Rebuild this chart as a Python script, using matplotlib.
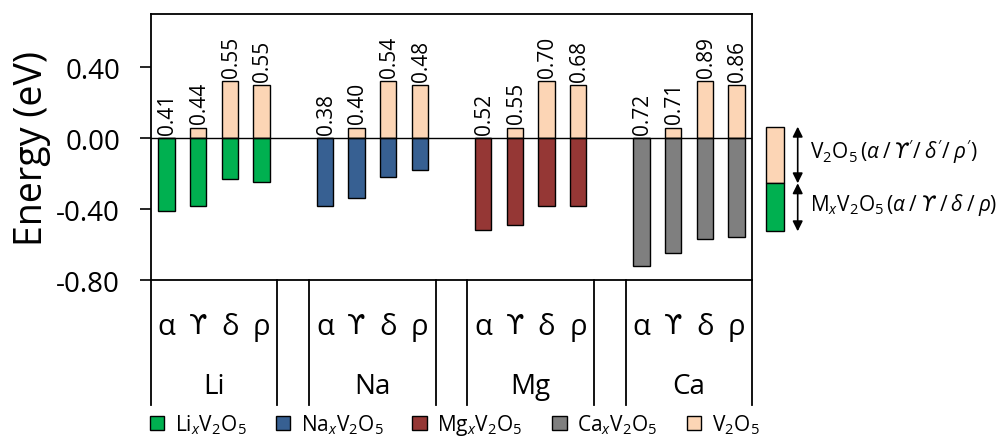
import matplotlib
matplotlib.use("Agg")
import matplotlib.pyplot as plt
from matplotlib.patches import Patch, Rectangle, FancyArrowPatch
import numpy as np

plt.rcParams["font.family"] = ["Open Sans", "DejaVu Sans"]
plt.rcParams["mathtext.fontset"] = "custom"
plt.rcParams["mathtext.rm"] = "Open Sans"
plt.rcParams["mathtext.it"] = "Open Sans:italic"
plt.rcParams["mathtext.bf"] = "Open Sans:bold"
plt.rcParams["mathtext.sf"] = "DejaVu Sans:italic"

# ---- data -------------------------------------------------------------
metals = ["Li", "Na", "Mg", "Ca"]
phases = ["α", "ϒ", "δ", "ρ"]
# energy gap between intercalated and empty host (eV), written above each bar
gap_li = [0.41, 0.44, 0.55, 0.55]
gap_na = [0.38, 0.40, 0.54, 0.48]
gap_mg = [0.52, 0.55, 0.70, 0.68]
gap_ca = [0.72, 0.71, 0.89, 0.86]
# relative energy of the empty V2O5 host for each phase (eV)
v2o5_energy = [0.00, 0.06, 0.32, 0.30]
gaps = [gap_li, gap_na, gap_mg, gap_ca]

metal_colors = ["#00B050", "#376092", "#953735", "#7F7F7F"]
v2o5_color = "#FCD5B5"
legend_labels = [r"$\mathregular{Li_{\mathit{x}}V_2O_5}$",
                 r"$\mathregular{Na_{\mathit{x}}V_2O_5}$",
                 r"$\mathregular{Mg_{\mathit{x}}V_2O_5}$",
                 r"$\mathregular{Ca_{\mathit{x}}V_2O_5}$",
                 r"$\mathregular{V_2O_5}$"]

# ---- figure -----------------------------------------------------------
fig = plt.figure(figsize=(10.04, 4.39), dpi=100)
ax = fig.add_axes([0.1501, 0.3599, 0.5992, 0.6059])

n_per = len(phases)
slot = n_per + 1
bar_w = 0.52
for g, (gap, col) in enumerate(zip(gaps, metal_colors)):
    x = np.arange(n_per) + g * slot
    gap = np.array(gap)
    top = np.array(v2o5_energy)
    bottom = top - gap
    ax.bar(x, top, width=bar_w, color=v2o5_color, edgecolor="black",
           linewidth=1.0, zorder=2)
    ax.bar(x, bottom, width=bar_w, color=col, edgecolor="black",
           linewidth=1.0, zorder=2)
    for xi, t, v in zip(x, top, gap):
        ax.annotate(f"{v:.2f}", (xi, t), xytext=(1, 3),
                    textcoords="offset points", rotation=90,
                    ha="center", va="bottom", fontsize=15)

ax.axhline(0, color="black", linewidth=1.0, zorder=3)

ax.set_xlim(-0.5, 4 * slot - 1.5)
ax.set_ylim(-0.80, 0.70)
ax.set_yticks([0.40, 0.00, -0.40, -0.80])
ax.set_yticklabels(["0.40", "0.00", "-0.40", "-0.80"])
ax.tick_params(axis="y", direction="out", length=8, width=1.2,
               labelsize=20, pad=14)
ax.set_xticks([])
for s in ax.spines.values():
    s.set_linewidth(1.3)
ax.set_ylabel("Energy (eV)", fontsize=27, labelpad=4)

# two-level category axis drawn under the plot
tr = ax.get_xaxis_transform()
line_bottom = -0.47
bounds = []
for g in range(4):
    bounds += [g * slot - 0.5, g * slot + n_per - 0.5]
for b in bounds:
    ax.plot([b, b], [0, line_bottom], transform=tr, color="black",
            linewidth=1.3, clip_on=False)
for g, m in enumerate(metals):
    for i, p in enumerate(phases):
        if p == "ϒ":
            ax.text(g * slot + i, -0.173, p, transform=tr, ha="center",
                    va="center", fontsize=19, family=["DejaVu Sans"])
        else:
            ax.text(g * slot + i, -0.173, p, transform=tr, ha="center",
                    va="center", fontsize=21)
    ax.text(g * slot + (n_per - 1) / 2, -0.398, m, transform=tr,
            ha="center", va="center", fontsize=20)

handles = [Patch(facecolor=c, edgecolor="black", linewidth=1.0)
           for c in metal_colors + [v2o5_color]]
ax.legend(handles, legend_labels, loc="center", bbox_to_anchor=(0.505, -0.545),
          ncol=5, frameon=False, fontsize=15, handlelength=0.7,
          handleheight=0.7, handletextpad=0.5, columnspacing=1.4)

# key on the right: stacked block with brackets
W, H = 1004.0, 439.0
def fx(px):
    return px / W
def fy(py):
    return 1 - py / H
x0, x1 = 765.7, 784.0
y_top, y_mid, y_bot = 127.7, 184.3, 232.3
fig.add_artist(Rectangle((fx(x0), fy(y_mid)), fx(x1) - fx(x0),
                         fy(y_top) - fy(y_mid), transform=fig.transFigure,
                         facecolor=v2o5_color, edgecolor="black", linewidth=1.0))
fig.add_artist(Rectangle((fx(x0), fy(y_bot)), fx(x1) - fx(x0),
                         fy(y_mid) - fy(y_bot), transform=fig.transFigure,
                         facecolor=metal_colors[0], edgecolor="black", linewidth=1.0))
xa = 797.7
for ya, yb in [(y_top, y_mid), (y_mid, y_bot)]:
    fig.add_artist(FancyArrowPatch((fx(xa), fy(ya)), (fx(xa), fy(yb)),
                                   transform=fig.transFigure,
                                   arrowstyle="<|-|>,head_length=6,head_width=3",
                                   mutation_scale=1, color="black",
                                   linewidth=1.2, shrinkA=0, shrinkB=0))
fig.text(fx(810), fy(151.7),
         r"$\mathregular{V_2O_5}\,(\mathit{\alpha\:/\:}\mathsf{ϒ}\mathit{'/\:\delta'/\:\rho'})$",
         ha="left", va="center", fontsize=15)
fig.text(fx(810), fy(205),
         r"$\mathregular{M_{\mathit{x}}V_2O_5}\,(\mathit{\alpha\:/\:}\mathsf{ϒ}\mathit{\:/\:\delta\:/\:\rho})$",
         ha="left", va="center", fontsize=15)

fig.savefig("out.png", dpi=100)
